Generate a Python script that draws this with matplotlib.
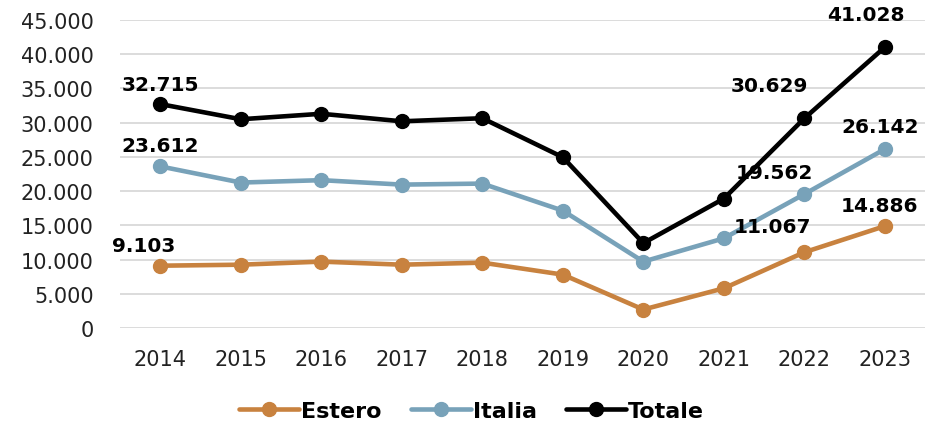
import matplotlib
matplotlib.use("Agg")
import matplotlib.pyplot as plt
from matplotlib.ticker import FuncFormatter, MultipleLocator

years = ["2014", "2015", "2016", "2017", "2018", "2019", "2020", "2021", "2022", "2023"]
estero = [9103, 9250, 9700, 9250, 9550, 7800, 2700, 5800, 11067, 14886]
italia = [23612, 21250, 21600, 20950, 21100, 17150, 9700, 13100, 19562, 26142]
totale = [32715, 30500, 31300, 30200, 30650, 24950, 12400, 18900, 30629, 41028]

# Labelled points: index -> pixel offset of the value label
labels_estero = {0: (-17, 20), 8: (-32, 26), 9: (-5, 21)}
labels_italia = {0: (0, 21), 8: (-30, 22), 9: (-5, 23)}
labels_totale = {0: (0, 20), 8: (-35, 33), 9: (-19, 33)}

c_estero = "#C8823F"
c_italia = "#78A2B9"
c_totale = "#000000"

plt.rcParams["font.family"] = ["DejaVu Sans"]

fig = plt.figure(figsize=(9.43, 4.27), dpi=100)
ax = fig.add_axes([0.1273, 0.2295, 0.8537, 0.7213])

x = list(range(len(years)))
series = [
    ("Estero", estero, c_estero, labels_estero),
    ("Italia", italia, c_italia, labels_italia),
    ("Totale", totale, c_totale, labels_totale),
]
for name, vals, col, labs in series:
    ax.plot(x, vals, color=col, lw=3.3, marker="o", ms=10, label=name,
            solid_capstyle="round", zorder=3)
    for i, off in labs.items():
        ax.annotate(f"{vals[i]:,}".replace(",", "."), (x[i], vals[i]),
                    xytext=off, textcoords="offset pixels",
                    ha="center", va="center", fontsize=14.5, fontweight="bold",
                    color="black", zorder=4)

ax.set_xlim(-0.5, len(years) - 0.5)
ax.set_ylim(0, 45000)
ax.yaxis.set_major_locator(MultipleLocator(5000))
ax.yaxis.set_major_formatter(FuncFormatter(lambda v, p: f"{int(v):,}".replace(",", ".")))
ax.set_xticks(x)
ax.set_xticklabels(years)
ax.tick_params(axis="both", length=0, labelsize=15, colors="#222222")
ax.tick_params(axis="x", pad=15)
ax.tick_params(axis="y", pad=19)
ax.grid(axis="y", color="#d9d9d9", lw=1.3, zorder=0)
for s in ax.spines.values():
    s.set_visible(False)

fig.legend(loc="center", bbox_to_anchor=(0.5, 1 - 412 / 427), ncol=3,
           frameon=False, prop={"weight": "bold", "size": 16},
           handlelength=2.7, handletextpad=0.1, columnspacing=1.3)

fig.savefig("out.png", dpi=100)
